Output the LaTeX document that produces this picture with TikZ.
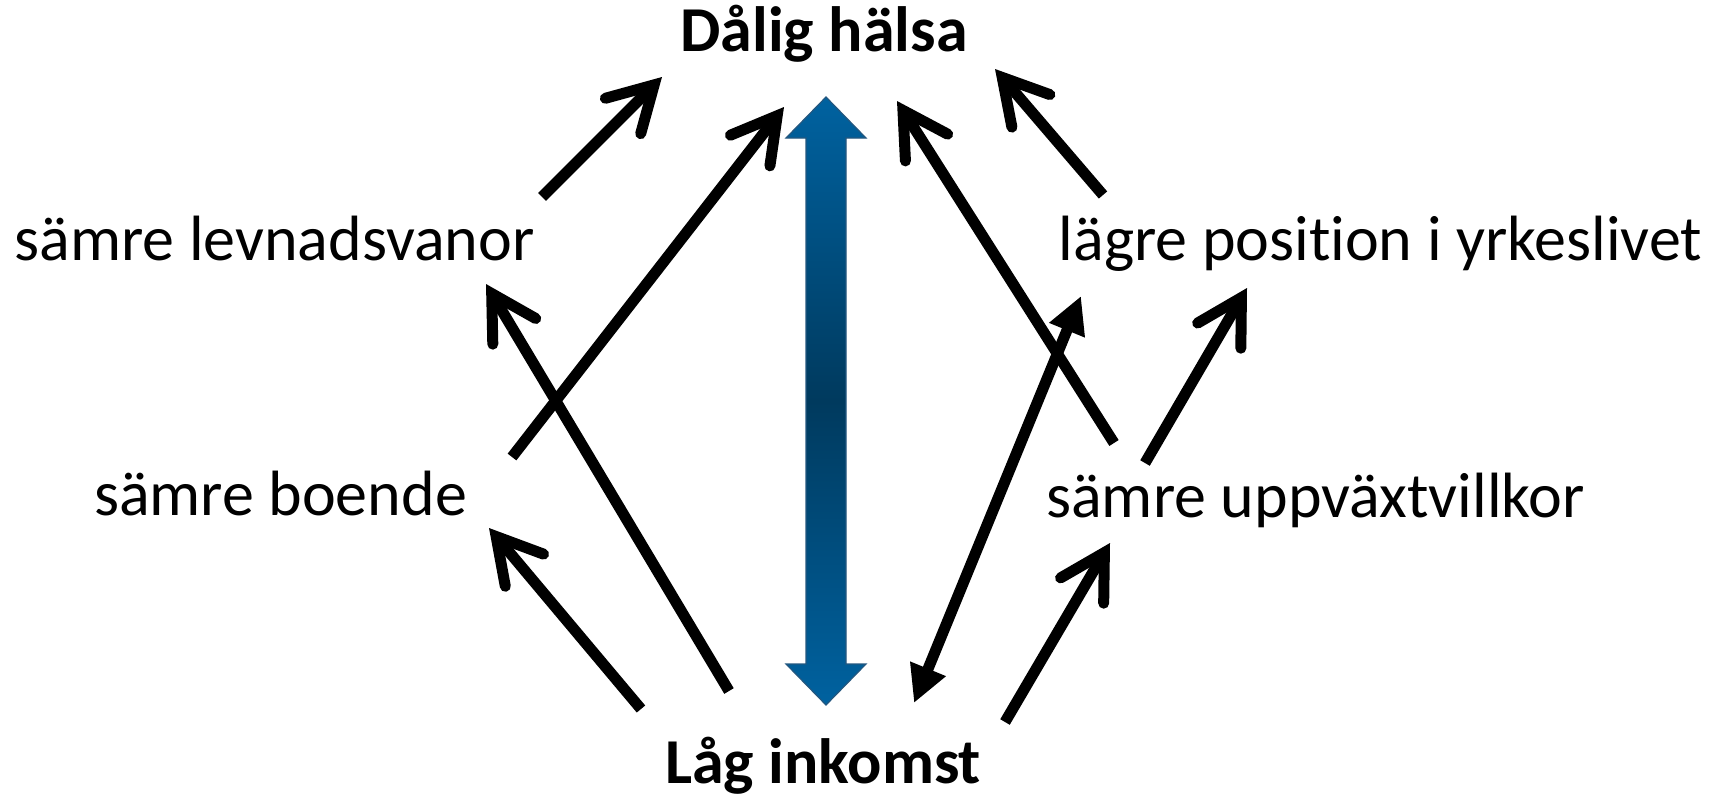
\documentclass[tikz,border=0pt]{standalone}
\usepackage{fontspec}
\setmainfont{Carlito}[Ligatures=NoCommon]
\usetikzlibrary{arrows.meta}
\definecolor{blueA}{HTML}{0062A0}
\definecolor{blueB}{HTML}{003A5E}
\definecolor{blueC}{HTML}{24577F}
\tikzset{
  lbl/.style={inner sep=0pt, anchor=base, font=\fontsize{64}{77}\selectfont},
  blbl/.style={lbl, font=\fontsize{64}{77}\selectfont\bfseries},
  blk/.style={line width=11pt, -{Straight Barb[length=44pt,width=50pt,line cap=round,line join=miter]}},
  dbl/.style={line width=11pt, {Triangle[length=37pt,width=36pt]}-{Triangle[length=37pt,width=36pt]}},
}
\begin{document}
\begin{tikzpicture}[x=1pt,y=-1pt]
\useasboundingbox (0,0) rectangle (1719,796);
% texts
\node[blbl] (halsa) at (824,51) {Dålig hälsa};
\node[blbl] (inkomst) at (823,783) {Låg inkomst};
\node[lbl] (levn) at (274.5,260) {sämre levnadsvanor};
\node[lbl] (yrke) at (1380.5,260) {lägre position i yrkeslivet};
\node[lbl] (boende) at (280.5,515) {sämre boende};
\node[lbl] (uppv) at (1315.5,517) {sämre uppväxtvillkor};
% end points
\coordinate (a1s) at (542,197);  \coordinate (a1e) at (662,77);
\coordinate (a2s) at (512,457);  \coordinate (a2e) at (784,107);
\coordinate (a3s) at (729,691);  \coordinate (a3e) at (486,284);
\coordinate (a4s) at (641,709);  \coordinate (a4e) at (489,528);
\coordinate (a5s) at (1114,443); \coordinate (a5e) at (897,101);
\coordinate (a6s) at (1103,195); \coordinate (a6e) at (995,69);
\coordinate (a7s) at (914,703);  \coordinate (a7e) at (1081,296);
\coordinate (a8s) at (1145,463); \coordinate (a8e) at (1247,288);
\coordinate (a9s) at (1005,722); \coordinate (a9e) at (1110,543);
% blue double arrow
\path[draw=blueC, line width=1.2pt, top color=blueA, bottom color=blueA, middle color=blueB]
  (826,97) -- (866,138) -- (846,138) -- (846,664) -- (866,664) -- (826,705)
  -- (786,664) -- (806,664) -- (806,138) -- (786,138) -- cycle;
% black arrows
\draw[blk] (a1s) -- (a1e);
\draw[blk] (a2s) -- (a2e);
\draw[blk] (a3s) -- (a3e);
\draw[blk] (a4s) -- (a4e);
\draw[blk] (a5s) -- (a5e);
\draw[blk] (a6s) -- (a6e);
\draw[dbl] (a7s) -- (a7e);
\draw[blk] (a8s) -- (a8e);
\draw[blk] (a9s) -- (a9e);
\end{tikzpicture}
\end{document}
